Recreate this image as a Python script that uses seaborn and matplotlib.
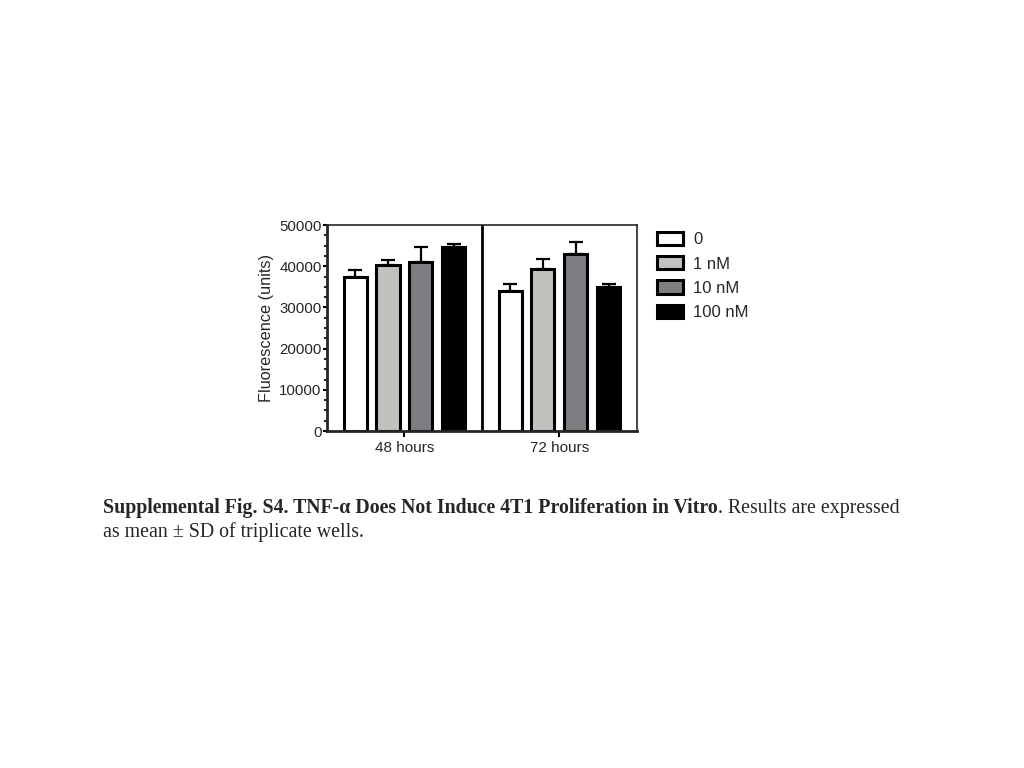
import numpy as np
import pandas as pd
import matplotlib
matplotlib.use("Agg")
import matplotlib.pyplot as plt
import matplotlib.patches as mpatches
from matplotlib.ticker import MultipleLocator
import seaborn as sns

# data
times = ["48 hours", "72 hours"]
doses = ["0", "1 nM", "10 nM", "100 nM"]
mean_48h = [37400, 40300, 41000, 44600]
mean_72h = [34000, 39300, 43000, 35000]
sd_48h = [1600, 1300, 3600, 900]
sd_72h = [1700, 2400, 3000, 600]

colors = ["#ffffff", "#c1c2be", "#807d82", "#000000"]

df = pd.DataFrame({
    "time": [times[0]] * 4 + [times[1]] * 4,
    "dose": doses + doses,
    "value": mean_48h + mean_72h,
})
sds = {d: [sd_48h[i], sd_72h[i]] for i, d in enumerate(doses)}

sns.set_style("ticks")
plt.rcParams["font.family"] = ["Liberation Sans", "DejaVu Sans"]

fig = plt.figure(figsize=(10.24, 7.68), dpi=100)
ax = fig.add_axes([0.3193, 0.4388, 0.3027, 0.2682])

sns.barplot(data=df, x="time", y="value", hue="dose", order=times, hue_order=doses,
            palette=colors, errorbar=None, width=0.85, gap=0.3,
            edgecolor="black", linewidth=2.2, saturation=1, legend=False, ax=ax)

# one-sided SD error bars
for cont, d in zip(ax.containers, doses):
    xs = [b.get_x() + b.get_width() / 2 for b in cont]
    ys = [b.get_height() for b in cont]
    err = sds[d]
    ax.errorbar(xs, ys, yerr=[np.zeros(len(err)), err], fmt="none", ecolor="black",
                elinewidth=1.6, capsize=4.7, capthick=1.6, zorder=0.5)

ax.axvline(0.5, color="black", lw=2)
ax.set_xlim(-0.5, 1.5)
ax.set_ylim(0, 50000)
ax.set_yticks(np.arange(0, 50001, 10000))
ax.yaxis.set_minor_locator(MultipleLocator(2500))
ax.tick_params(axis="y", labelsize=10.8, width=1.5, length=3.2, pad=0.6, color="black")
ax.tick_params(axis="x", labelsize=11, width=1.5, length=4, pad=3.5, color="black")
ax.tick_params(axis="y", which="minor", width=1.5, length=2)
ax.set_xlabel("")
ax.set_ylabel("Fluorescence (units)", fontsize=11.7, labelpad=4)
for s in ["left", "bottom"]:
    ax.spines[s].set_linewidth(2)
for s in ["top", "right"]:
    ax.spines[s].set_linewidth(1.2)
    ax.spines[s].set_visible(True)

handles = [mpatches.Patch(facecolor=c, edgecolor="black", linewidth=2.2, label=d)
           for c, d in zip(colors, doses)]
fig.legend(handles=handles, loc="upper left", bbox_to_anchor=(0.6416, 0.698),
           frameon=False, fontsize=12, handlelength=1.56, handleheight=0.85,
           labelspacing=0.53, handletextpad=0.6, borderaxespad=0, borderpad=0)

# caption with bold lead-in
serif = ["Liberation Serif", "DejaVu Serif"]
bold = fig.text(0.1006, 1 - 513 / 768, "Supplemental Fig. S4. TNF-\u03b1 Does Not Induce 4T1 Proliferation in Vitro",
                fontsize=14.3, fontweight="bold", family=serif, va="baseline")
fig.canvas.draw()
bb = bold.get_window_extent(fig.canvas.get_renderer())
fig.text(bb.x1 / fig.bbox.width, 1 - 513 / 768, ". Results are expressed",
         fontsize=14.3, family=serif, va="baseline")
fig.text(0.1006, 1 - 537 / 768, "as mean \u00b1 SD of triplicate wells.",
         fontsize=14.3, family=serif, va="baseline")

fig.savefig("out.png", dpi=100)
